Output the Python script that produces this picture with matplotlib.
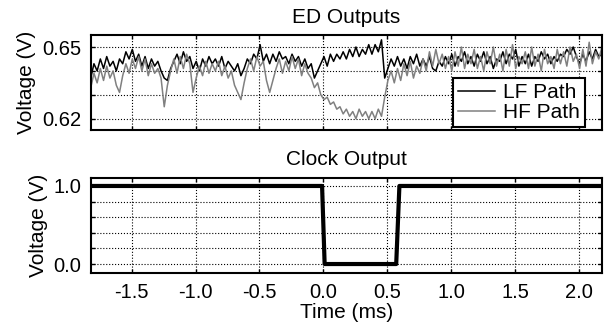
import numpy as np
import matplotlib
matplotlib.use('Agg')
import matplotlib.pyplot as plt

plt.rcParams['font.family'] = ['Liberation Sans', 'DejaVu Sans']
plt.rcParams['font.size'] = 15
plt.rcParams['axes.unicode_minus'] = False

# time base of the ED traces, ms (0.025 ms per sample)
t0, dt = -1.82, 0.025

# LF path (black), mV
lf_mv = [637, 643, 640, 645, 641, 646, 642, 644,
         640, 645, 643, 648, 645, 649, 644, 647,
         642, 646, 641, 645, 642, 644, 640, 637,
         636, 641, 644, 647, 643, 648, 644, 646,
         641, 644, 640, 645, 642, 646, 643, 645,
         642, 646, 641, 644, 642, 640, 643, 638,
         641, 645, 643, 647, 645, 651, 644, 647,
         643, 647, 644, 648, 645, 646, 643, 647,
         644, 646, 642, 645, 641, 643, 637, 640,
         643, 646, 642, 647, 644, 647, 645, 648,
         645, 649, 646, 650, 646, 649, 647, 651,
         647, 651, 648, 653, 637, 641, 645, 642,
         646, 642, 645, 641, 646, 643, 647, 642,
         645, 642, 646, 641, 640, 644, 642, 646,
         643, 647, 642, 646, 644, 648, 643, 646,
         642, 647, 644, 648, 643, 646, 641, 645,
         644, 648, 643, 647, 645, 649, 642, 646,
         643, 647, 642, 646, 644, 648, 645, 647,
         643, 646, 644, 647, 646, 649, 647, 650,
         646, 643, 647, 644, 648, 645, 649, 646,
         647]

# HF path (gray), mV
hf_mv = [633, 639, 635, 641, 636, 642, 637, 640,
         634, 631, 638, 643, 639, 645, 641, 646,
         640, 645, 638, 643, 639, 641, 637, 625,
         634, 640, 645, 639, 646, 641, 647, 643,
         631, 637, 642, 638, 644, 639, 643, 640,
         644, 638, 642, 637, 640, 634, 631, 628,
         635, 641, 645, 640, 646, 642, 644, 636,
         631, 636, 641, 645, 639, 644, 640, 646,
         641, 645, 638, 643, 639, 637, 633, 635,
         630, 628, 629, 626, 627, 624, 625, 622,
         624, 621, 623, 620, 624, 621, 623, 620,
         623, 620, 624, 621, 629, 636, 640, 635,
         641, 636, 643, 638, 644, 637, 642, 639,
         645, 640, 648, 642, 649, 643, 647, 641,
         646, 640, 648, 642, 650, 641, 647, 643,
         649, 641, 646, 640, 648, 643, 650, 642,
         647, 640, 649, 642, 651, 641, 646, 643,
         648, 641, 650, 642, 647, 640, 649, 643,
         646, 641, 649, 643, 648, 642, 650, 644,
         647, 641, 649, 642, 652, 643, 648, 645,
         650]

# clock output
clk_t = [-1.82, -0.01, 0.01, 0.57, 0.595, 2.18]
clk_v = [1.0, 1.0, 0.0, 0.0, 1.0, 1.0]

t = t0 + dt * np.arange(len(lf_mv))
lf = np.array(lf_mv) / 1000.0
hf = np.array(hf_mv) / 1000.0

fig = plt.figure(figsize=(6.05, 3.29), dpi=100)
ax1 = fig.add_axes([0.150, 0.6058, 0.845, 0.2869])
ax2 = fig.add_axes([0.150, 0.1702, 0.845, 0.2897])

xt = [-1.5, -1.0, -0.5, 0.0, 0.5, 1.0, 1.5, 2.0]

def style(ax):
    for s in ax.spines.values():
        s.set_linewidth(1.5)
    ax.tick_params(direction='in', length=3, width=1, top=True, right=True,
                   pad=7, labelsize=14.5)
    ax.grid(True, color='k', linestyle=':', linewidth=0.8)
    ax.set_xlim(-1.82, 2.18)
    ax.set_xticks(xt)

ax1.plot(t, lf, color='black', lw=1.1, label='LF Path')
ax1.plot(t, hf, color='#808080', lw=1.1, label='HF Path')
style(ax1)
ax1.set_ylim(0.6154, 0.6549)
ax1.set_yticks([0.62, 0.63, 0.64, 0.65])
ax1.set_yticklabels(['0.62', '', '', '0.65'])
ax1.set_xticklabels([])
ax1.set_ylabel('Voltage (V)', labelpad=4)
ax1.set_title('ED Outputs', fontsize=15, pad=9)
leg = ax1.legend(loc='lower right', bbox_to_anchor=(0.966, 0.028), borderaxespad=0,
                 fancybox=False, framealpha=1, edgecolor='black', handlelength=1.8,
                 labelspacing=0.05, borderpad=0.25, handletextpad=0.35)
leg.get_frame().set_linewidth(1.5)

ax2.plot(clk_t, clk_v, color='black', lw=3)
style(ax2)
ax2.set_ylim(-0.115, 1.106)
ax2.set_yticks([0.0, 0.2, 0.4, 0.6, 0.8, 1.0])
ax2.set_yticklabels(['0.0', '', '', '', '', '1.0'])
ax2.set_xticklabels(['-1.5', '-1.0', '-0.5', '0.0', '0.5', '1.0', '1.5', '2.0'])
ax2.set_ylabel('Voltage (V)', labelpad=4)
ax2.set_xlabel('Time (ms)', labelpad=1)
ax2.set_title('Clock Output', fontsize=15, pad=9)

fig.savefig('out.png', dpi=100)
